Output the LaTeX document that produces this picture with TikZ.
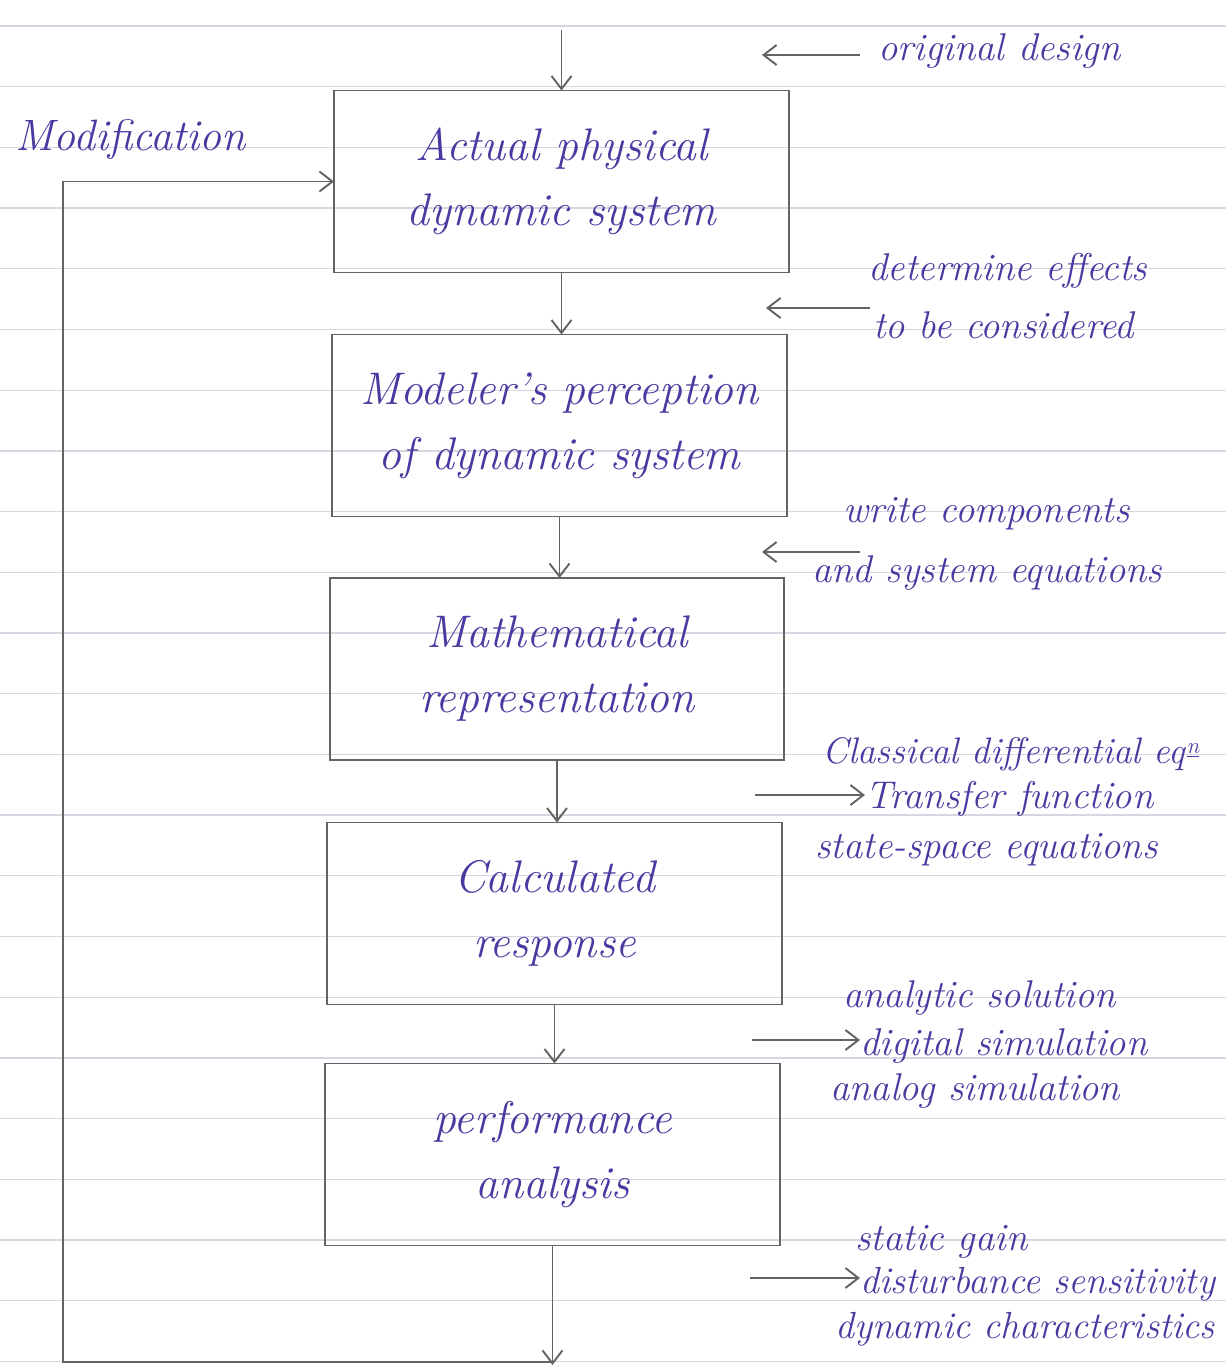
\documentclass[tikz,border=0pt]{standalone}
\usepackage{tikz}
\usetikzlibrary{arrows.meta}
\definecolor{ink}{RGB}{72,58,160}
\definecolor{pencil}{RGB}{100,100,100}
\definecolor{ruled}{RGB}{214,214,224}
\tikzset{
  blockbox/.style={draw=pencil, line width=1.1pt, outer sep=0pt, minimum width=9.1cm, minimum height=3.64cm, align=center, font=\fontsize{26}{37}\selectfont\itshape, text=ink},
  note/.style={anchor=base west, inner sep=0pt, font=\fontsize{22}{26}\selectfont\itshape, text=ink},
  flow/.style={draw=pencil, line width=1.1pt, -{Straight Barb[length=2.6mm,width=4mm]}},
}

\begin{document}
\begin{tikzpicture}[x=0.02cm, y=-0.02cm]
			%%%%% START %%%%%
			\useasboundingbox (0, 0) rectangle (1226, 1367);
			
			% ruled paper
			\foreach \k in {0,...,22}
				\draw[ruled, line width=0.7pt] (0, {26+60.7*\k}) -- (1226, {26+60.7*\k});
			
			\node[blockbox] (b1) at (561.5, 181.5) {Actual physical\\dynamic system};
			\node[blockbox] (b2) at (559.5, 425.5) {Modeler's perception\\of dynamic system};
			\node[blockbox] (b3) at (557, 669) {Mathematical\\representation};
			\node[blockbox] (b4) at (554.5, 913.5) {Calculated\\response};
			\node[blockbox] (b5) at (552.5, 1154.5) {performance\\analysis};
			
			\coordinate (top) at (561.5, 30);
			\coordinate (out) at (547, 1365);
			\coordinate (fb) at (63, 1362);
			
			\draw[flow] (top) -- (b1.north);
			\draw[flow] (b1.south) -- (b1.south |- b2.north);
			\draw[flow] (b2.south) -- (b2.south |- b3.north);
			\draw[flow] (b3.south) -- (b3.south |- b4.north);
			\draw[flow] (b4.south) -- (b4.south |- b5.north);
			\draw[flow] (b5.south) -- (b5.south |- out);
			\draw[flow] (b5.south |- fb) -- (fb) |- (b1.west);
			
			\node[note, font=\fontsize{25}{30}\selectfont\itshape] (modif) at (15, 150) {Modification};
			
			% side notes
			\node[note] (orig) at (878, 60) {original design};
			\coordinate (a1s) at (860, 55);
			\coordinate (a1e) at (762, 55);
			\draw[flow] (a1s) -- (a1e);
			
			\node[note] (eff1) at (868, 280) {determine effects};
			\node[note] (eff2) at (873, 338) {to be considered};
			\coordinate (a2s) at (870, 308);
			\coordinate (a2e) at (766, 308);
			\draw[flow] (a2s) -- (a2e);
			
			\node[note] (eqs1) at (843, 522) {write components};
			\node[note] (eqs2) at (812, 582) {and system equations};
			\coordinate (a3s) at (860, 552);
			\coordinate (a3e) at (762, 552);
			\draw[flow] (a3s) -- (a3e);
			
			\node[note, font=\fontsize{21}{25}\selectfont\itshape] (cde) at (822, 763) {Classical differential eq\/\raisebox{0.6ex}{\fontsize{13}{15}\selectfont\underline{n}}};
			\node[note] (tf) at (865, 808) {Transfer function};
			\node[note] (ss) at (815, 858) {state-space equations};
			\coordinate (a4s) at (755, 795);
			\draw[flow] (a4s) -- (a4s -| tf.west);
			
			\node[note] (ana) at (843, 1007) {analytic solution};
			\node[note] (dig) at (860, 1055) {digital simulation};
			\node[note] (alg) at (830, 1100) {analog simulation};
			\coordinate (a5s) at (752, 1040);
			\draw[flow] (a5s) -- (a5s -| dig.west);
			
			\node[note] (gain) at (855, 1250) {static gain};
			\node[note, font=\fontsize{21.5}{26}\selectfont\itshape] (dist) at (860, 1293) {disturbance sensitivity};
			\node[note, font=\fontsize{21.5}{26}\selectfont\itshape] (dyn) at (835, 1338) {dynamic characteristics};
			\coordinate (a6s) at (750, 1278);
			\draw[flow] (a6s) -- (a6s -| dist.west);
			
			%%%%% END %%%%%
\end{tikzpicture}
\end{document}
